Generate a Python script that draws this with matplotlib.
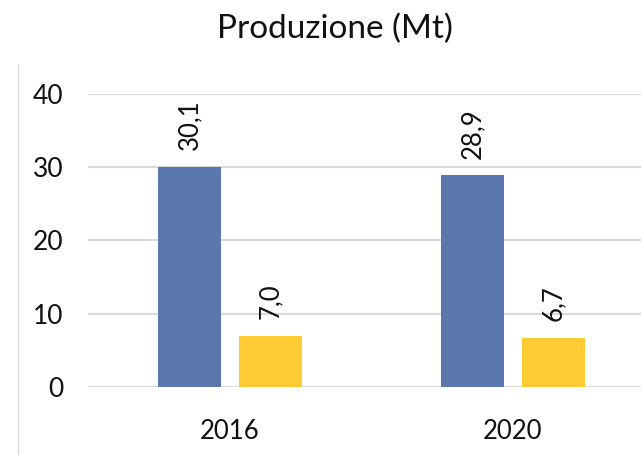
import matplotlib
matplotlib.use("Agg")
import matplotlib.pyplot as plt
import numpy as np
from matplotlib.lines import Line2D

# data
years = ["2016", "2020"]
serie_a = [30.1, 28.9]
serie_b = [7.0, 6.7]
yticks = [0, 10, 20, 30, 40]

plt.rcParams["font.family"] = ["Lato", "DejaVu Sans"]

fig = plt.figure(figsize=(6.41, 4.55), dpi=100)
ax = fig.add_axes([88.5 / 641, 68 / 455, 566 / 641, 293 / 455])

x = np.arange(len(years))
w = 0.223
off = 0.142
bars_a = ax.bar(x - off, serie_a, w, color="#5a77ae", zorder=3)
bars_b = ax.bar(x + off, serie_b, w, color="#ffcb33", zorder=3)

for bars, vals in ((bars_a, serie_a), (bars_b, serie_b)):
    for b, v in zip(bars, vals):
        ax.annotate(f"{v:.1f}".replace(".", ","),
                    (b.get_x() + b.get_width() / 2, v),
                    xytext=(0, 12), textcoords="offset points",
                    rotation=90, ha="center", va="bottom",
                    fontsize=18.5, color="#111111", clip_on=False)

ax.set_xlim(-0.5, 1.5)
ax.set_ylim(0, 40)
ax.set_yticks(yticks)
ax.set_xticks(x)
ax.set_xticklabels(years)
ax.yaxis.grid(True, color="#d9d9d9", linewidth=1.5, zorder=0)
ax.set_axisbelow(True)
for s in ax.spines.values():
    s.set_visible(False)
ax.tick_params(length=0, colors="#111111")
ax.tick_params(axis="y", pad=18, labelsize=19)
ax.tick_params(axis="x", pad=23, labelsize=18.5)

fig.text(335 / 641, 1 - 38 / 455, "Produzione (Mt)", ha="center", va="baseline",
         fontsize=24, color="#111111")
fig.add_artist(Line2D([18 / 641, 18 / 641], [0, 1 - 64 / 455],
                      color="#d9d9d9", linewidth=1, transform=fig.transFigure))

fig.savefig("out.png", dpi=100)
